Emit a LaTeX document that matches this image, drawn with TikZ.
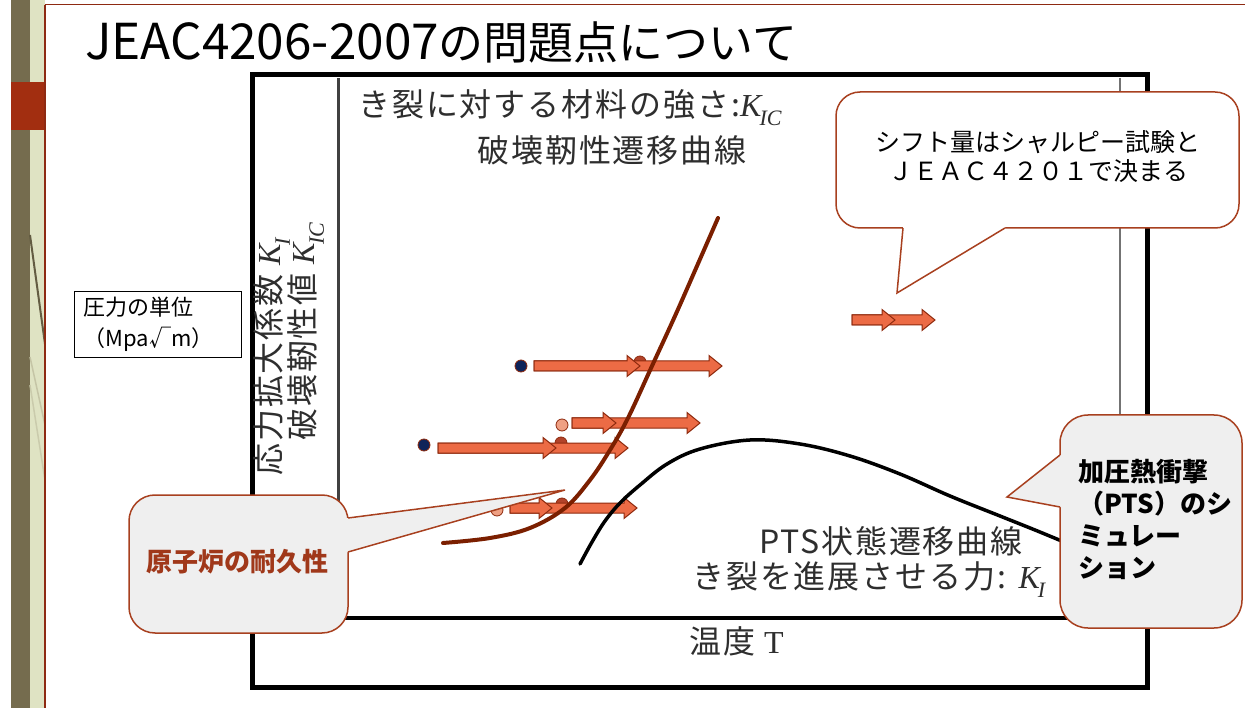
\documentclass[tikz,border=0pt]{standalone}
\usepackage{fontspec}
\usepackage{graphicx}
\setmainfont{Noto Sans CJK JP}
\newfontfamily\chf{Noto Sans CJK JP}[LetterSpace=6]
\newfontfamily\tms{Liberation Serif}
\newcommand\KK[2]{{\tms\itshape K\kern-0.06em\raisebox{-0.28em}{\fontsize{#2}{#2}\selectfont #1}}}
\definecolor{sbdark}{HTML}{756C4E}
\definecolor{sbbeige}{HTML}{DFE3C3}
\definecolor{sbred}{HTML}{A22E10}
\definecolor{sbline}{HTML}{8E2A12}
\definecolor{cbord}{HTML}{A8401F}
\definecolor{cfill}{HTML}{EFEFEF}
\definecolor{arrfill}{HTML}{EC6B45}
\definecolor{arrdraw}{HTML}{8E2A0E}
\definecolor{browncurve}{HTML}{7B1F00}
\definecolor{navydot}{HTML}{0F2359}
\definecolor{salmondot}{HTML}{EFA083}
\definecolor{browndot}{HTML}{B2432A}
\definecolor{chtext}{HTML}{2E2E2E}
\definecolor{durtext}{HTML}{A0381A}
\newcommand\blockarrow[3]{\filldraw[arrowbody] (#1,#3-5) -- (#2-13,#3-5) -- (#2-13,#3-10.5) -- (#2,#3) -- (#2-13,#3+10.5) -- (#2-13,#3+5) -- (#1,#3+5) -- cycle;}
\begin{document}
\begin{tikzpicture}[x=1pt,y=-1pt,
  chart/.style={font=\chf\fontsize{32}{36}\selectfont, text=chtext, inner sep=0pt},
  arrowbody/.style={fill=arrfill, draw=arrdraw, line width=1, line join=miter},
  dot/.style={circle, minimum size=12pt, inner sep=0pt, draw=arrdraw, line width=0.8},
  callout/.style={draw=cbord, line width=1.5},
]
\useasboundingbox (0,0) rectangle (1245,708);
\fill[white] (0,0) rectangle (1245,708);
% sidebar
\fill[sbdark] (11,0) rectangle (30,708);
\fill[sbbeige] (30,0) rectangle (45,708);
\draw[sbdark!85!black, line width=2] (30,235) -- (45,344);
\draw[sbdark!25!sbbeige, line width=1.5] (30,357) -- (45,425);
\draw[sbdark!20!sbbeige, line width=1.5] (30,385) -- (45,480);
\fill[sbred] (11,82) rectangle (45,130);
\draw[sbline, line width=1.5] (45,5) -- (45,708);
\draw[sbline, line width=1] (45,5) -- (1245,5);
% title
\node[anchor=base west, inner sep=0pt, font=\fontsize{45}{50}\selectfont] (title) at (85,60)
  {\scalebox{1.1}[1.1]{JEAC4206-2007}の問題点について};
% unit box
\node[draw, line width=1, anchor=north west, align=left, inner xsep=9pt, inner ysep=0pt,
  text width=149pt, minimum height=66pt, font=\fontsize{22}{31}\selectfont] (unit) at (74,291)
  {圧力の単位\\（Mpa√m）};
% plot frame
\draw[line width=5] (252,75) rectangle (1147,687);
\draw[black!75, line width=3] (338,78) -- (338,618);
\draw[black!55, line width=1.2] (1120,78) -- (1120,618);
\draw[line width=4] (338,618) -- (1120,618);
% axis labels
\node[chart, rotate=90, anchor=west] (ylab1) at (272,476) {応力拡大係数 \KK{I}{22}};
\node[chart, rotate=90, anchor=west] (ylab2) at (306,441) {破壊靭性値 \KK{IC}{22}};
\node[chart, anchor=west] (kic) at (358,108) {き裂に対する材料の強さ:\KK{IC}{22}};
\node[chart] (ftt) at (612,150) {破壊靭性遷移曲線};
\node[chart] (pts) at (891,541) {PTS状態遷移曲線};
\node[chart, anchor=west] (ki) at (692,580) {き裂を進展させる力: \KK{I}{22}};
\node[chart, anchor=west] (temp) at (689,641) {温度 {\tms T}};
% dots
\node[dot, fill=browndot] (b1) at (640,362) {};
\node[dot, fill=browndot] (b2) at (561,443) {};
\node[dot, fill=browndot] (b3) at (562,504) {};
\node[dot, fill=navydot] (n1) at (521,366) {};
\node[dot, fill=navydot] (n2) at (424,445) {};
\node[dot, fill=salmondot] (s1) at (562,425) {};
\node[dot, fill=salmondot] (s2) at (497,510) {};
% arrows
\blockarrow{534}{722}{366}
\blockarrow{534}{640}{366}
\blockarrow{572}{700}{423}
\blockarrow{572}{616}{423}
\blockarrow{438}{628}{448}
\blockarrow{438}{556}{448}
\blockarrow{510}{637}{508}
\blockarrow{510}{552}{508}
\blockarrow{852}{935}{320}
\blockarrow{852}{895}{320}
% curves
\draw[browncurve, line width=4, line cap=round] plot[smooth, tension=0.6] coordinates
  {(443,543) (490,538) (530,528) (565,508) (590,480) (610,450) (628,418) (652,366) (675,316) (697,266) (718,218)};
\draw[black, line width=3.5, line cap=round] plot[smooth, tension=0.6] coordinates
  {(580,564) (592,542) (605,521) (620,503) (640,485) (667,464) (700,449) (750,440) (800,444) (850,456) (900,474) (950,496) (1000,516) (1035,530) (1064,542)};
% callout A
\path[callout, fill=white, rounded corners=24] (836,92) rectangle (1239,228);
\fill[white] (903,223) -- (903,229) -- (897,293) -- (1005,229) -- (1005,223) -- cycle;
\draw[callout, line join=miter] (903,228) -- (897,293) -- (1005,228);
\node[align=center, font=\fontsize{25}{29}\selectfont] (ta) at (1038,157)
  {シフト量はシャルピー試験と\\ＪＥＡＣ４２０１で決まる};
% callout B
\path[callout, fill=cfill, rounded corners=26] (129,495) rectangle (348,633);
\fill[cfill] (343,518) -- (349,518) -- (565,490) -- (349,552) -- (343,552) -- cycle;
\draw[callout, line join=miter] (348,518) -- (565,490) -- (348,552);
\node[font=\fontsize{26}{30}\selectfont\bfseries, text=durtext] (tb) at (237,562) {原子炉の耐久性};
% callout C
\path[callout, fill=cfill, rounded corners=28] (1060,415) rectangle (1242,628);
\fill[cfill] (1065,455) -- (1059,455) -- (1007,497) -- (1059,507) -- (1065,507) -- cycle;
\draw[callout, line join=miter] (1060,455) -- (1007,497) -- (1060,507);
\node[anchor=west, align=left, inner sep=0pt, font=\fontsize{26}{32}\selectfont\bfseries] (tc) at (1078,519)
  {加圧熱衝撃\\（PTS）のシ\\ミュレー\\ション};
\end{tikzpicture}
\end{document}
